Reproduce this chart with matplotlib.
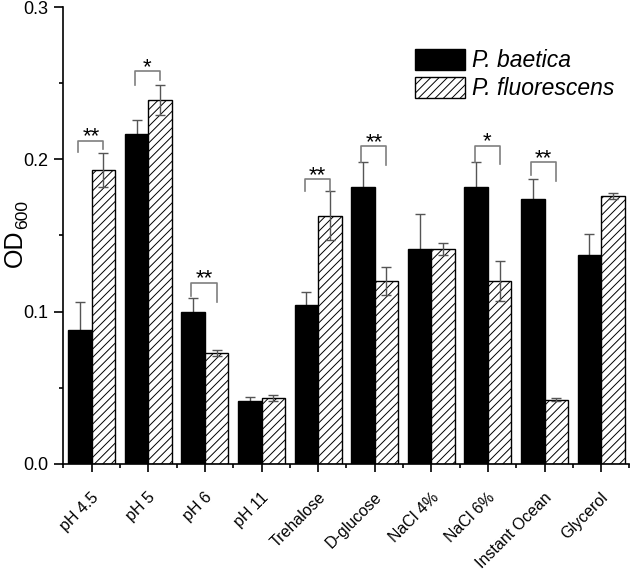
import matplotlib
matplotlib.use("Agg")
import matplotlib.pyplot as plt
import matplotlib.transforms as mtransforms
import numpy as np

plt.rcParams['font.family'] = ['Liberation Sans', 'DejaVu Sans']
plt.rcParams['hatch.linewidth'] = 0.7

categories = ["pH 4.5", "pH 5", "pH 6", "pH 11", "Trehalose", "D-glucose",
              "NaCl 4%", "NaCl 6%", "Instant Ocean", "Glycerol"]
baetica = [0.088, 0.217, 0.100, 0.041, 0.104, 0.182, 0.141, 0.182, 0.174, 0.137]
baetica_err = [0.018, 0.009, 0.009, 0.003, 0.009, 0.016, 0.023, 0.016, 0.013, 0.014]
fluor = [0.193, 0.239, 0.073, 0.043, 0.163, 0.120, 0.141, 0.120, 0.042, 0.176]
fluor_err = [0.011, 0.010, 0.002, 0.002, 0.016, 0.009, 0.004, 0.013, 0.001, 0.002]

# significance brackets: category index, stars, top, left leg end, right leg end
sig_idx = [0, 1, 2, 4, 5, 7, 8]
sig_label = ["**", "*", "**", "**", "**", "*", "**"]
sig_top = [0.212, 0.258, 0.119, 0.187, 0.2085, 0.209, 0.198]
sig_left = [0.205, 0.249, 0.110, 0.179, 0.198, 0.198, 0.190]
sig_right = [0.207, 0.252, 0.106, 0.179, 0.196, 0.197, 0.186]

fig = plt.figure(figsize=(6.3, 5.69), dpi=100)
ax = fig.add_axes([0.1006, 0.1852, 0.8986, 0.802])

x = np.arange(len(categories))
w = 0.415
ax.bar(x - w / 2, baetica, w, color='black', edgecolor='black', linewidth=1.0,
       label='P. baetica', zorder=2)
ax.bar(x + w / 2, fluor, w, color='white', edgecolor='black', linewidth=1.0,
       hatch='////', label='P. fluorescens', zorder=2)
ax.errorbar(x - w / 2, baetica, yerr=baetica_err, fmt='none', ecolor='#555555',
            elinewidth=1.0, capsize=3.5, capthick=1.0, zorder=1)
ax.errorbar(x + w / 2, fluor, yerr=fluor_err, fmt='none', ecolor='#555555',
            elinewidth=1.0, capsize=3.5, capthick=1.0, zorder=3)

for i, lab, top, yl, yr in zip(sig_idx, sig_label, sig_top, sig_left, sig_right):
    x0 = i - w / 2 - 0.03
    x1 = i + w / 2
    ax.plot([x0, x0, x1, x1], [yl, top, top, yr], color='#7f7f7f', lw=1.2,
            zorder=3, clip_on=False)
    ax.text((x0 + x1) / 2, top - 0.001, lab, ha='center', va='baseline',
            fontsize=16)

ax.set_xlim(-0.5, len(categories) - 0.5)
ax.set_ylim(0, 0.3)
ax.set_xticks(x)
ax.set_xticks(np.arange(-0.5, len(categories), 1.0), minor=True)
ax.set_xticklabels(categories, rotation=45, ha='right', fontsize=11.5)
ax.set_yticks([0.0, 0.1, 0.2, 0.3])
ax.set_yticklabels(["0.0", "0.1", "0.2", "0.3"], fontsize=13)
ax.set_yticks([0.05, 0.15, 0.25], minor=True)
ax.tick_params(axis='x', which='major', direction='out', length=6, width=1.2)
ax.tick_params(axis='y', which='major', direction='out', length=6.5, width=1.2,
               pad=4.5)
ax.tick_params(which='minor', direction='out', length=3, width=1.2)

# shift rotated labels a bit right and down
shift = mtransforms.ScaledTranslation(10 / 100, -13 / 100, fig.dpi_scale_trans)
for lbl in ax.get_xticklabels():
    lbl.set_transform(lbl.get_transform() + shift)

for s in ['top', 'right']:
    ax.spines[s].set_visible(False)
for s in ['left', 'bottom']:
    ax.spines[s].set_linewidth(1.2)

# y label "OD" with subscript 600, built from two texts
fig.text(22 / 630, 1 - 267 / 569, "OD", rotation=90, rotation_mode='anchor',
         ha='left', va='baseline', fontsize=18)
fig.text(27 / 630, 1 - 229 / 569, "600", rotation=90, rotation_mode='anchor',
         ha='left', va='baseline', fontsize=12.6)

leg = ax.legend(loc='upper left', bbox_to_anchor=(415 / 630, 1 - 49 / 569),
                bbox_transform=fig.transFigure, frameon=False, borderpad=0,
                borderaxespad=0, handlelength=2.2, handleheight=1.05,
                handletextpad=0.3, labelspacing=0.2,
                prop={'size': 16.5, 'style': 'italic'})

fig.savefig("out.png", dpi=100)
